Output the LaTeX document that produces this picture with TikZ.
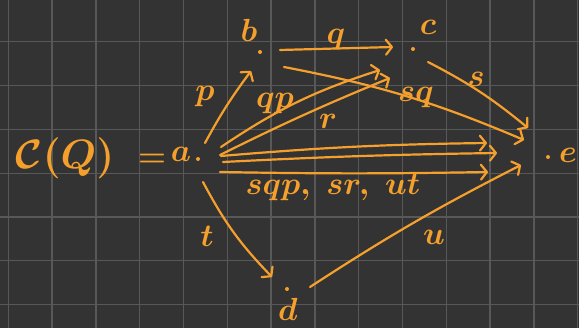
\RequirePackage{fix-cm}
\documentclass[tikz,border=0pt]{standalone}
\usetikzlibrary{arrows.meta,calc}
\definecolor{board}{HTML}{333333}
\definecolor{gridline}{HTML}{585858}
\definecolor{chalk}{HTML}{F5A02C}
\tikzstyle{vert} = [circle, fill=chalk, minimum width=4pt, inner sep=0pt]
\tikzstyle{lbl} = [text=chalk, inner sep=0pt, font=\fontsize{32}{32}\selectfont\boldmath]
\tikzstyle{biglbl} = [text=chalk, inner sep=0pt, font=\fontsize{41}{41}\selectfont\boldmath]
\tikzstyle{arr} = [draw=chalk, line width=2.2pt, line cap=round, -{Straight Barb[length=6pt,width=15pt,round]}]

\begin{document}
\begin{tikzpicture}[x=1pt,y=1pt]
\useasboundingbox (0,0) rectangle (579,328);
%board
\fill[board] (0,0) rectangle (579,328);
\foreach \gx in {0,...,13}
    \draw[gridline, line width=1.3pt] (8.3+43.8*\gx,0) -- (8.3+43.8*\gx,328);
\foreach \gy in {0,...,6}
    \draw[gridline, line width=1.3pt] (0,23.4+43.8*\gy) -- (579,23.4+43.8*\gy);
%begin vertices
\node[vert] (a) at (198,169) {};
\node[vert] (b) at (260,276) {};
\node[vert] (c) at (413,279) {};
\node[vert] (d) at (287,39) {};
\node[vert] (e) at (548,171) {};
\node[biglbl] (cq) at (65,170) {$\mathcal{C}(Q)$};
\node[lbl] (eq) at (152,168) {$=$};
\node[lbl] (na) at (181,174) {$a$};
\node[lbl] (nb) at (249,298) {$b$};
\node[lbl] (nc) at (428,301) {$c$};
\node[lbl] (nd) at (288,19) {$d$};
\node[lbl] (ne) at (568,173) {$e$};
%end vertices
%begin arrows
\draw[arr] ($(a)+(7,16)$) to[bend left=4] ($(b)+(-9,-19)$);
\draw[arr] ($(b)+(20,2)$) -- ($(c)+(-20,2)$);
\draw[arr] ($(a)+(23,12)$) to[bend left=8] ($(c)+(-33,-21)$);
\draw[arr] ($(a)+(22,4)$) to[bend left=2] ($(c)+(-23,-29)$);
\draw[arr] ($(a)+(23,3)$) to[bend left=2] ($(e)+(-61,14)$);
\draw[arr] ($(a)+(25,-3)$) to[bend left=1] ($(e)+(-51,4)$);
\draw[arr] ($(a)+(22,-13)$) to[bend right=1] ($(e)+(-60,-15)$);
\draw[arr] ($(b)+(24,-15)$) to[bend left=6] ($(e)+(-24,17)$);
\draw[arr] ($(c)+(15,-13)$) to[bend left=6] ($(e)+(-20,29)$);
\draw[arr] ($(a)+(5,-23)$) to[bend right=8] ($(d)+(-15,12)$);
\draw[arr] ($(d)+(23,2)$) to[bend left=3] ($(e)+(-27,-8)$);
%end arrows
%begin labels
\node[lbl] (lp) at (205,231) {$p$};
\node[lbl] (lq) at (336,288) {$q$};
\node[lbl] (lqp) at (275,224) {$qp$};
\node[lbl] (lr) at (328,207) {$r$};
\node[lbl] (lsq) at (416,230) {$sq$};
\node[lbl] (ls) at (476,249) {$s$};
\node[lbl] (lpaths) at (333,141) {$sqp,\ sr,\ ut$};
\node[lbl] (lt) at (207,92) {$t$};
\node[lbl] (lu) at (434,91) {$u$};
%end labels
\end{tikzpicture}
\end{document}
